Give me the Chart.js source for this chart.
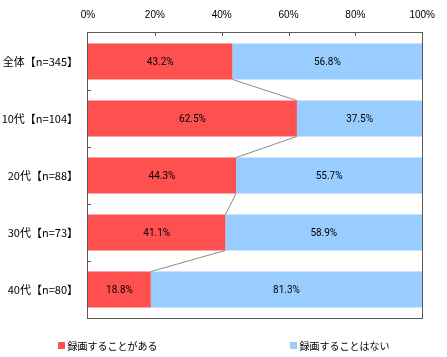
<!DOCTYPE html>
<html>
<head>
<meta charset="utf-8">
<script src="https://cdn.jsdelivr.net/npm/chart.js@4/dist/chart.umd.min.js"></script>
<style>
html,body{margin:0;padding:0;background:#fff;}
canvas{display:block;}
</style>
</head>
<body>
<canvas id="c" width="447" height="357"></canvas>
<script>
const categories = ['全体【n=345】', '10代【n=104】', '20代【n=88】', '30代【n=73】', '40代【n=80】'];
const seriesNames = ['録画することがある', '録画することはない'];
const recordYes = [43.2, 62.5, 44.3, 41.1, 18.8];
const recordNo = [56.8, 37.5, 55.7, 58.9, 81.3];
const xTicks = [0, 20, 40, 60, 80, 100];

const RED = '#FF5050';
const BLUE = '#99CCFF';

const overlay = {
  id: 'overlay',
  afterDatasetsDraw(chart) {
    const ctx = chart.ctx, a = chart.chartArea;
    const xs = chart.scales.x, ys = chart.scales.y;
    ctx.save();
    // connector lines between red bar ends
    const m0 = chart.getDatasetMeta(0).data;
    ctx.strokeStyle = '#8a8a8a';
    ctx.lineWidth = 1;
    for (let i = 0; i < m0.length - 1; i++) {
      const b = m0[i], n = m0[i + 1];
      ctx.beginPath();
      ctx.moveTo(b.x, b.y + b.height / 2);
      ctx.lineTo(n.x, n.y - n.height / 2);
      ctx.stroke();
    }
    // value labels
    ctx.fillStyle = '#000';
    ctx.font = '10px Roboto, "Liberation Sans", Arial, sans-serif';
    ctx.textAlign = 'center';
    ctx.textBaseline = 'middle';
    chart.data.datasets.forEach((ds, di) => {
      chart.getDatasetMeta(di).data.forEach((b, i) => {
        const right = Math.min(b.x, a.right);
        const cx = (right + b.base) / 2;
        ctx.fillText(ds.data[i].toFixed(1) + '%', cx, b.y + 1);
      });
    });
    // frame
    ctx.strokeStyle = '#5a5a5a';
    ctx.lineWidth = 1;
    ctx.strokeRect(Math.round(a.left) - 0.5, Math.round(a.top) - 0.5, Math.round(a.right - a.left) + 1, Math.round(a.bottom - a.top) + 1);
    // inner ticks on top axis
    xTicks.slice(1, -1).forEach(v => {
      const px = Math.round(xs.getPixelForValue(v)) + 0.5;
      ctx.beginPath();
      ctx.moveTo(px, a.top);
      ctx.lineTo(px, a.top + 3);
      ctx.stroke();
    });
    // inner ticks on left axis between categories
    for (let i = 0; i < categories.length - 1; i++) {
      const py = Math.round((ys.getPixelForValue(i) + ys.getPixelForValue(i + 1)) / 2) + 0.5;
      ctx.beginPath();
      ctx.moveTo(a.left, py);
      ctx.lineTo(a.left + 3, py);
      ctx.stroke();
    }
    ctx.restore();
  },
  afterDraw(chart) {
    const ctx = chart.ctx;
    ctx.save();
    ctx.font = '10px "Noto Sans CJK JP", sans-serif';
    ctx.textBaseline = 'middle';
    ctx.textAlign = 'left';
    const box = 7, gapText = 3, gapItems = 132;
    const items = chart.data.datasets.map(ds => ({
      label: ds.label, color: ds.backgroundColor,
      w: box + gapText + ctx.measureText(ds.label).width
    }));
    const total = items.reduce((s, it) => s + it.w, 0) + gapItems * (items.length - 1);
    let x = (chart.width - total) / 2;
    const y = 345;
    items.forEach(it => {
      ctx.fillStyle = it.color;
      ctx.fillRect(Math.round(x), y - 3, box, box);
      ctx.fillStyle = '#000';
      ctx.fillText(it.label, x + box + gapText, y + 1);
      x += it.w + gapItems;
    });
    ctx.restore();
  }
};

new Chart(document.getElementById('c'), {
  type: 'bar',
  data: {
    labels: categories,
    datasets: [
      { label: seriesNames[0], data: recordYes, backgroundColor: RED, borderWidth: 0, barPercentage: 0.63, categoryPercentage: 1 },
      { label: seriesNames[1], data: recordNo, backgroundColor: BLUE, borderWidth: 0, barPercentage: 0.63, categoryPercentage: 1 }
    ]
  },
  options: {
    indexAxis: 'y',
    responsive: false,
    animation: false,
    layout: { padding: { left: 0, top: 0, right: 23, bottom: 39 } },
    plugins: { legend: { display: false }, tooltip: { enabled: false } },
    scales: {
      x: {
        position: 'top', min: 0, max: 100, stacked: true,
        grid: { display: false, drawTicks: false },
        border: { display: false },
        afterBuildTicks(s) { s.ticks = xTicks.map(v => ({ value: v })); },
        ticks: { padding: 12, color: '#000', callback: v => v + '%', font: { family: '"Liberation Sans", Arial, sans-serif', size: 10 } },
        afterFit(s) { s.height = 33; }
      },
      y: {
        stacked: true,
        grid: { display: false, drawTicks: false },
        border: { display: false },
        ticks: { padding: 10, color: '#000', font: { family: '"Noto Sans CJK JP", sans-serif', size: 11 } },
        afterFit(s) { s.width = 88; }
      }
    }
  },
  plugins: [overlay]
});
</script>
</body>
</html>
